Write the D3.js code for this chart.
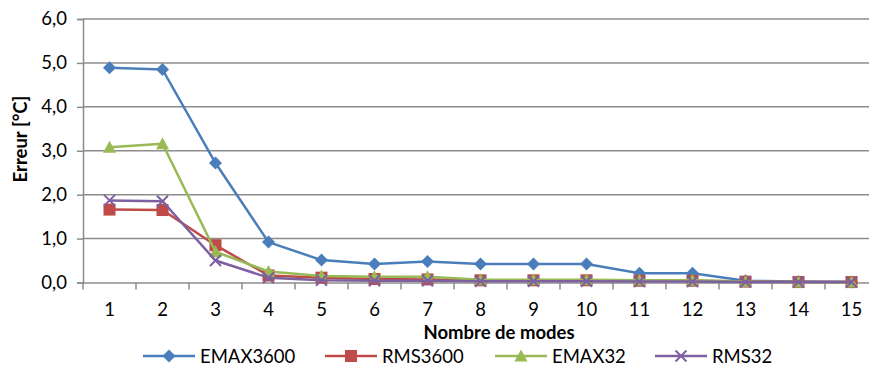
<!DOCTYPE html>
<html>
<head>
<meta charset="utf-8">
<script src="https://cdn.jsdelivr.net/npm/d3@7"></script>
<style>
  html, body { margin: 0; padding: 0; background: #fff; overflow: hidden; }
  svg { display: block; }
  text { font-family: Lato, "Open Sans", sans-serif; fill: #000; }
</style>
</head>
<body>
<svg id="chart" width="869" height="369"></svg>
<script>
const categories = ["1","2","3","4","5","6","7","8","9","10","11","12","13","14","15"];
const yTicks = [0, 1, 2, 3, 4, 5, 6];
const seriesNames = ["EMAX3600", "RMS3600", "EMAX32", "RMS32"];
const emax3600 = [4.89, 4.85, 2.72, 0.92, 0.51, 0.42, 0.48, 0.42, 0.42, 0.42, 0.21, 0.21, 0.04, 0.02, 0.01];
const rms3600  = [1.66, 1.65, 0.85, 0.16, 0.11, 0.08, 0.07, 0.05, 0.05, 0.05, 0.04, 0.04, 0.02, 0.01, 0.01];
const emax32   = [3.08, 3.16, 0.70, 0.25, 0.15, 0.13, 0.13, 0.06, 0.06, 0.06, 0.05, 0.05, 0.02, 0.01, 0.01];
const rms32    = [1.87, 1.85, 0.50, 0.11, 0.05, 0.04, 0.04, 0.03, 0.03, 0.03, 0.02, 0.02, 0.01, 0.01, 0.01];
const colors = ["#4A7EBB", "#BE4B48", "#98B954", "#7D60A0"];
const markers = ["diamond", "square", "triangle", "cross"];

const series = [emax3600, rms3600, emax32, rms32].map((vals, i) => ({
  name: seriesNames[i], values: vals, color: colors[i], marker: markers[i]
}));

const svg = d3.select("#chart");
const plotLeft = 83, plotRight = 878, plotTop = 19, plotBottom = 282.5;
const fontSize = "18.5px";

const x = d3.scaleBand().domain(categories).range([plotLeft, plotRight]);
const y = d3.scaleLinear().domain([0, 6]).range([plotBottom, plotTop]);
const fmt = v => d3.format(".1f")(v).replace(".", ",");
const gridColor = "#8c8c8c";

// gridlines
svg.append("g").selectAll("line").data(yTicks.filter(t => t > 0)).join("line")
  .attr("x1", plotLeft).attr("x2", plotRight)
  .attr("y1", d => y(d)).attr("y2", d => y(d))
  .attr("stroke", gridColor).attr("stroke-width", 1.5);

// y axis
const yAxis = svg.append("g").attr("transform", `translate(${plotLeft},0)`)
  .call(d3.axisLeft(y).tickValues(yTicks).tickFormat(fmt).tickSize(6).tickPadding(10));
yAxis.select(".domain").attr("stroke", gridColor).attr("stroke-width", 1.5);
yAxis.selectAll(".tick line").attr("stroke", gridColor).attr("stroke-width", 1.5);
yAxis.selectAll(".tick text").style("font-size", fontSize).attr("font-family", "Lato");

// x axis
const xAxis = svg.append("g").attr("transform", `translate(0,${plotBottom})`)
  .call(d3.axisBottom(x).tickSize(0).tickPadding(21));
xAxis.select(".domain").attr("stroke", gridColor).attr("stroke-width", 1.5);
xAxis.selectAll(".tick text").style("font-size", fontSize).attr("font-family", "Lato")
  .attr("y", 33.5).attr("dy", 0);
// category boundary ticks
xAxis.append("g").selectAll("line").data(d3.range(categories.length + 1)).join("line")
  .attr("x1", d => plotLeft + d * x.step()).attr("x2", d => plotLeft + d * x.step())
  .attr("y1", 0).attr("y2", 7)
  .attr("stroke", gridColor).attr("stroke-width", 1.5);

// axis titles
svg.append("text").attr("x", 499).attr("y", 338.5).attr("text-anchor", "middle")
  .style("font-size", fontSize).style("font-weight", "bold").text("Nombre de modes");
svg.append("text").attr("transform", "translate(20,139) rotate(-90)")
  .attr("text-anchor", "middle").attr("dominant-baseline", "central")
  .style("font-size", fontSize).style("font-weight", "bold").text("Erreur [°C]");

function drawMarker(g, type, color) {
  if (type === "diamond") {
    g.append("path").attr("d", "M0,-6.5L6.5,0L0,6.5L-6.5,0Z").attr("fill", color);
  } else if (type === "square") {
    g.append("rect").attr("x", -6).attr("y", -6).attr("width", 12).attr("height", 12).attr("fill", color);
  } else if (type === "triangle") {
    g.append("path").attr("d", "M0,-6.5L6.5,5.5L-6.5,5.5Z").attr("fill", color);
  } else {
    g.append("path").attr("d", "M-5.5,-5.5L5.5,5.5M-5.5,5.5L5.5,-5.5")
      .attr("stroke", color).attr("stroke-width", 2).attr("fill", "none");
  }
}

const line = d3.line().x((d, i) => x(categories[i]) + x.bandwidth() / 2).y(d => y(d));

series.forEach(s => {
  const g = svg.append("g");
  g.append("path").attr("d", line(s.values)).attr("fill", "none")
    .attr("stroke", s.color).attr("stroke-width", 2.5).attr("stroke-linejoin", "round");
  s.values.forEach((v, i) => {
    const mg = g.append("g").attr("transform", `translate(${x(categories[i]) + x.bandwidth() / 2},${y(v)})`);
    drawMarker(mg, s.marker, s.color);
  });
});

// legend
const legendX = [143, 325, 495, 655];
const legendY = 356;
series.forEach((s, i) => {
  const g = svg.append("g").attr("transform", `translate(${legendX[i]},${legendY})`);
  g.append("line").attr("x1", 0).attr("x2", 52).attr("y1", 0).attr("y2", 0)
    .attr("stroke", s.color).attr("stroke-width", 2.5);
  const mg = g.append("g").attr("transform", "translate(26,0)");
  drawMarker(mg, s.marker, s.color);
  g.append("text").attr("x", 57).attr("y", 0).attr("dominant-baseline", "central")
    .style("font-size", fontSize).text(s.name);
});
</script>
</body>
</html>
